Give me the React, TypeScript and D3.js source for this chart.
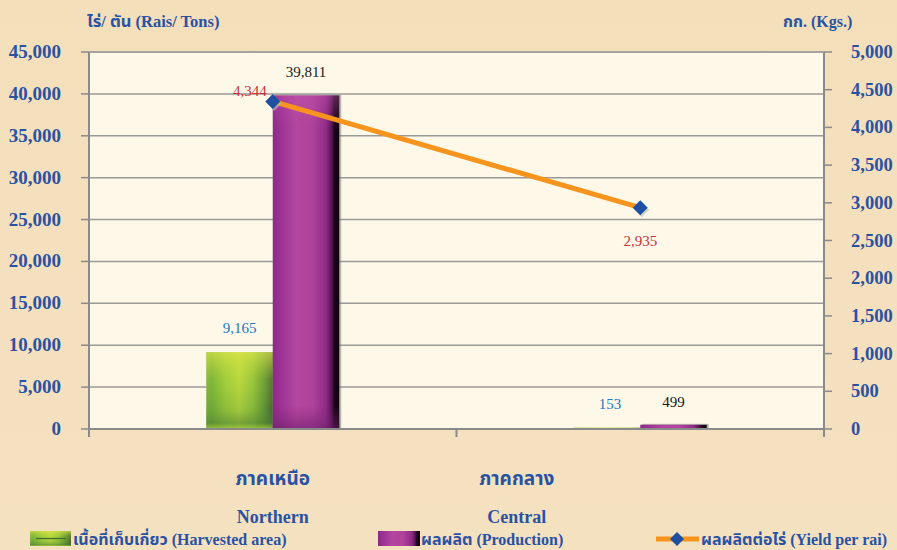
import React from "react";
import * as d3 from "d3";

const categoriesTh = ["ภาคเหนือ", "ภาคกลาง"];
const categoriesEn = ["Northern", "Central"];
const harvestedArea = [9165, 153];
const production = [39811, 499];
const yieldPerRai = [4344, 2935];
const leftTicks = [0, 5000, 10000, 15000, 20000, 25000, 30000, 35000, 40000, 45000];
const rightTicks = [0, 500, 1000, 1500, 2000, 2500, 3000, 3500, 4000, 4500, 5000];
const seriesNames = ["เนื้อที่เก็บเกี่ยว (Harvested area)", "ผลผลิต (Production)", "ผลผลิตต่อไร่ (Yield per rai)"];
const leftTitle = "ไร่/ ตัน (Rais/ Tons)";
const rightTitle = "กก. (Kgs.)";

const W = 897, H = 550;
const M = { left: 89, right: 824, top: 52, bottom: 429 };
const FONT = "'Liberation Serif', 'Times New Roman', 'Noto Sans Thai', 'Noto Serif Thai', serif";
const BLUE = "#2A52A3";

export default function App() {
  const fmt = d3.format(",");
  const x0 = d3.scaleBand<string>().domain(categoriesEn).range([M.left, M.right]);
  const barW = 66.5;
  const x1 = d3.scaleBand<string>().domain(["area", "prod"]).range([0, barW * 2]);
  const yL = d3.scaleLinear().domain([0, 45000]).range([M.bottom, M.top]);
  const yR = d3.scaleLinear().domain([0, 5000]).range([M.bottom, M.top]);
  const cx = (i: number) => (x0(categoriesEn[i]) as number) + x0.bandwidth() / 2;
  const gx = (i: number) => cx(i) - barW;

  const linePath = d3.line<number>().x((_, i) => cx(i)).y((d) => yR(d))(yieldPerRai) as string;
  const labelX = [cx(0), cx(0) + 244];
  const yieldLabelOffsets = [
    { dx: -6, dy: -5, anchor: "end" },
    { dx: 0, dy: 38, anchor: "middle" },
  ];

  const diamond = (x: number, y: number, r: number) =>
    `M${x},${y - r}L${x + r},${y}L${x},${y + r}L${x - r},${y}Z`;

  return (
    <svg width={W} height={H} style={{ position: "absolute", left: 0, top: 0, display: "block" }}>
      <defs>
        <linearGradient id="bgOuter" x1="0" y1="0" x2="0" y2="1">
          <stop offset="0" stopColor="#F4DFBB" />
          <stop offset="1" stopColor="#F4E1C0" />
        </linearGradient>
        <linearGradient id="greenH" x1="0" y1="0" x2="1" y2="0">
          <stop offset="0" stopColor="#7DAE4A" />
          <stop offset="0.08" stopColor="#6FAF35" />
          <stop offset="0.3" stopColor="#9CCB3A" />
          <stop offset="0.5" stopColor="#B6D83C" />
          <stop offset="0.7" stopColor="#8FC23A" />
          <stop offset="0.88" stopColor="#5D9033" />
          <stop offset="1" stopColor="#3C5E2C" />
        </linearGradient>
        <linearGradient id="greenV" x1="0" y1="0" x2="0" y2="1">
          <stop offset="0" stopColor="#E0E64A" stopOpacity="0.7" />
          <stop offset="0.35" stopColor="#C8DD40" stopOpacity="0.2" />
          <stop offset="0.75" stopColor="#5E8F38" stopOpacity="0.25" />
          <stop offset="0.92" stopColor="#4F7F35" stopOpacity="0.6" />
          <stop offset="1" stopColor="#A8CF3A" stopOpacity="0.8" />
        </linearGradient>
        <linearGradient id="purpleH" x1="0" y1="0" x2="1" y2="0">
          <stop offset="0" stopColor="#8C2A88" />
          <stop offset="0.1" stopColor="#9A3092" />
          <stop offset="0.35" stopColor="#B4469F" />
          <stop offset="0.6" stopColor="#B0429C" />
          <stop offset="0.8" stopColor="#8F2C86" />
          <stop offset="0.88" stopColor="#5A1656" />
          <stop offset="0.93" stopColor="#1A0518" />
          <stop offset="1" stopColor="#0E030D" />
        </linearGradient>
        <linearGradient id="purpleV" x1="0" y1="0" x2="0" y2="1">
          <stop offset="0" stopColor="#C45AB0" stopOpacity="0.4" />
          <stop offset="0.1" stopColor="#B4469F" stopOpacity="0" />
          <stop offset="0.93" stopColor="#7A2474" stopOpacity="0" />
          <stop offset="1" stopColor="#6A1E66" stopOpacity="0.6" />
        </linearGradient>
      </defs>

      <rect x={0} y={0} width={W} height={H} fill="url(#bgOuter)" />
      <rect x={M.left} y={M.top} width={M.right - M.left} height={M.bottom - M.top} fill="#FDF8E8" />

      {leftTicks.filter((t) => t > 0).map((t) => (
        <line key={"g" + t} x1={M.left} x2={M.right} y1={yL(t)} y2={yL(t)} stroke="#9A9A96" strokeWidth={1.5} />
      ))}

      {categoriesEn.map((c, i) => {
        const xa = gx(i) + (x1("area") as number);
        const xp = gx(i) + (x1("prod") as number);
        const ya = yL(harvestedArea[i]);
        const yp = yL(production[i]);
        const ha = M.bottom - ya;
        const hp = M.bottom - yp;
        return (
          <g key={"b" + c}>
            <rect x={xa + 2} y={ya + 1} width={barW} height={ha} fill="#9A9A8A" opacity={0.5} />
            <rect x={xa} y={ya} width={barW} height={ha} fill="url(#greenH)" />
            <rect x={xa} y={ya} width={barW} height={ha} fill="url(#greenV)" />
            <rect x={xp + 2} y={yp - 1} width={barW} height={hp + 1} fill="#8A8A80" opacity={0.6} />
            <rect x={xp} y={yp} width={barW} height={hp} fill="url(#purpleH)" />
            <rect x={xp} y={yp} width={barW} height={hp} fill="url(#purpleV)" />
          </g>
        );
      })}

      <line x1={M.left} x2={M.left} y1={M.top} y2={M.bottom + 8} stroke="#8A8A8A" strokeWidth={2} />
      <line x1={M.right} x2={M.right} y1={M.top} y2={M.bottom + 8} stroke="#8A8A8A" strokeWidth={2} />
      <line x1={M.left} x2={M.right} y1={M.bottom} y2={M.bottom} stroke="#8A8A8A" strokeWidth={2} />
      <line x1={M.left} x2={M.right} y1={M.top} y2={M.top} stroke="#A0A09C" strokeWidth={1.5} />
      <line x1={M.left + x0.bandwidth()} x2={M.left + x0.bandwidth()} y1={M.bottom} y2={M.bottom + 8} stroke="#8A8A8A" strokeWidth={2} />

      {leftTicks.map((t) => (
        <g key={"lt" + t}>
          <line x1={M.left - 8} x2={M.left} y1={yL(t)} y2={yL(t)} stroke="#8A8A8A" strokeWidth={1.5} />
          <text x={61} y={yL(t) + 6} textAnchor="end" fontFamily={FONT} fontWeight="bold" fontSize={19} fill={BLUE}>
            {fmt(t)}
          </text>
        </g>
      ))}
      {rightTicks.map((t) => (
        <g key={"rt" + t}>
          <line x1={M.right} x2={M.right + 8} y1={yR(t)} y2={yR(t)} stroke="#8A8A8A" strokeWidth={1.5} />
          <text x={851} y={yR(t) + 6} textAnchor="start" fontFamily={FONT} fontWeight="bold" fontSize={18.5} fill={BLUE}>
            {fmt(t)}
          </text>
        </g>
      ))}

      <text x={87} y={27} fontFamily={FONT} fontWeight="bold" fontSize={16.5} fill={BLUE}>{leftTitle}</text>
      <text x={783} y={27} fontFamily={FONT} fontWeight="bold" fontSize={16} fill={BLUE}>{rightTitle}</text>

      {categoriesEn.map((c, i) => (
        <g key={"bl" + c}>
          <text x={gx(i) + (x1("area") as number) + barW / 2 + (i === 1 ? 3 : 0)} y={yL(harvestedArea[i]) - 19}
            textAnchor="middle" fontFamily={FONT} fontSize={15} fill="#2277C0">{fmt(harvestedArea[i])}</text>
          <text x={gx(i) + (x1("prod") as number) + barW / 2} y={yL(production[i]) - 18}
            textAnchor="middle" fontFamily={FONT} fontSize={15} fill="#1A1A1A">{fmt(production[i])}</text>
        </g>
      ))}

      <path d={linePath} fill="none" stroke="#F7941D" strokeWidth={5} />
      {yieldPerRai.map((v, i) => (
        <g key={"y" + i}>
          <path d={diamond(cx(i) + 1.5, yR(v) + 2, 7.5)} fill="#BDBDB8" opacity={0.6} />
          <path d={diamond(cx(i), yR(v), 7.5)} fill="#1F4FA0" />
          <text x={cx(i) + yieldLabelOffsets[i].dx} y={yR(v) + yieldLabelOffsets[i].dy}
            textAnchor={yieldLabelOffsets[i].anchor as any} fontFamily={FONT} fontSize={15} fill="#C8323C">{fmt(v)}</text>
        </g>
      ))}

      {categoriesEn.map((c, i) => (
        <g key={"cl" + c}>
          <text x={labelX[i]} y={485} textAnchor="middle" fontFamily={FONT} fontWeight="bold" fontSize={19} fill={BLUE}>{categoriesTh[i]}</text>
          <text x={labelX[i]} y={523} textAnchor="middle" fontFamily={FONT} fontWeight="bold" fontSize={18} fill={BLUE}>{c}</text>
        </g>
      ))}

      <g>
        <rect x={30} y={531} width={41} height={15} fill="url(#greenH)" />
        <rect x={30} y={531} width={41} height={15} fill="url(#greenV)" />
        <line x1={36} x2={66} y1={538.5} y2={538.5} stroke="#3E6A2C" strokeWidth={1.2} />
        <text x={73} y={545} fontFamily={FONT} fontWeight="bold" fontSize={16} fill={BLUE}>{seriesNames[0]}</text>
        <rect x={378} y={531} width={42} height={15} fill="url(#purpleH)" />
        <text x={421} y={545} fontFamily={FONT} fontWeight="bold" fontSize={16} fill={BLUE}>{seriesNames[1]}</text>
        <line x1={656} x2={699} y1={539} y2={539} stroke="#F7941D" strokeWidth={5} />
        <path d={diamond(677, 539, 7)} fill="#1F4FA0" />
        <text x={701} y={545} fontFamily={FONT} fontWeight="bold" fontSize={16} fill={BLUE}>{seriesNames[2]}</text>
      </g>
    </svg>
  );
}
